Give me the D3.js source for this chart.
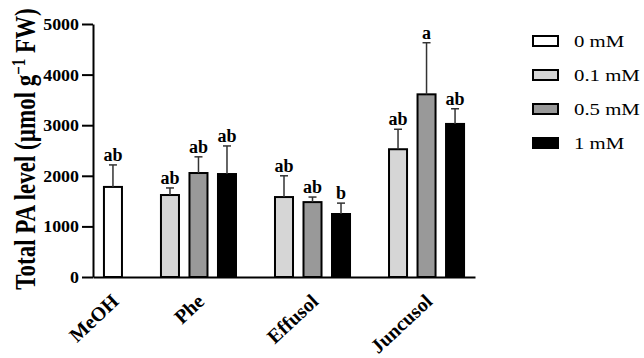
<!DOCTYPE html>
<html><head><meta charset="utf-8">
<script src="https://cdn.jsdelivr.net/npm/d3@7"></script>
<style>body{margin:0;background:#fff}svg{display:block}</style>
</head><body><svg id="c" width="644" height="358"></svg>
<script>
const categories = ["MeOH", "Phe", "Effusol", "Juncusol"];
const series = ["0 mM", "0.1 mM", "0.5 mM", "1 mM"];
const colors = ["#ffffff", "#d6d6d6", "#999999", "#000000"];
const meanValues = {
  "MeOH":     [1780, null, null, null],
  "Phe":      [null, 1620, 2055, 2035],
  "Effusol":  [null, 1580, 1480, 1245],
  "Juncusol": [null, 2525, 3610, 3025]
};
const errorTops = {
  "MeOH":     [2215, null, null, null],
  "Phe":      [null, 1760, 2375, 2590],
  "Effusol":  [null, 2000, 1580, 1460],
  "Juncusol": [null, 2920, 4630, 3325]
};
const letters = {
  "MeOH":     ["ab", null, null, null],
  "Phe":      [null, "ab", "ab", "ab"],
  "Effusol":  [null, "ab", "ab", "b"],
  "Juncusol": [null, "ab", "a", "ab"]
};
const yTicks = [0, 1000, 2000, 3000, 4000, 5000];

const svg = d3.select("#c");
const serif = "'Liberation Serif', 'Times New Roman', serif";

const bars = [];
const slots = [];
categories.forEach((c, ci) => {
  if (ci > 0) slots.push("gap" + ci);
  series.forEach((s, si) => {
    const v = meanValues[c][si];
    if (v == null) return;
    const key = c + "|" + s;
    slots.push(key);
    bars.push({cat: c, si, key, v, e: errorTops[c][si], l: letters[c][si]});
  });
});

const x = d3.scaleBand().domain(slots).range([93, 475]).paddingInner(0.368).paddingOuter(0.384);
const y = d3.scaleLinear().domain([0, 5000]).range([277, 24]);

svg.append("g").selectAll("rect").data(bars).join("rect")
  .attr("x", d => x(d.key)).attr("y", d => y(d.v))
  .attr("width", x.bandwidth()).attr("height", d => y(0) - y(d.v))
  .attr("fill", d => colors[d.si]).attr("stroke", "#000").attr("stroke-width", 2);

const eb = svg.append("g").attr("stroke", "#333").attr("stroke-width", 1.5);
bars.forEach(d => {
  const cx = x(d.key) + x.bandwidth() / 2;
  eb.append("line").attr("x1", cx).attr("x2", cx).attr("y1", y(d.v)).attr("y2", y(d.e));
  eb.append("line").attr("x1", cx - 4).attr("x2", cx + 4).attr("y1", y(d.e)).attr("y2", y(d.e));
});

svg.append("g").selectAll("text").data(bars).join("text")
  .attr("x", d => x(d.key) + x.bandwidth() / 2).attr("y", d => y(d.e) - 4)
  .attr("text-anchor", "middle").attr("font-family", serif).attr("font-weight", "bold")
  .attr("font-size", 18).text(d => d.l);

const ya = svg.append("g").attr("transform", "translate(93,0)")
  .call(d3.axisLeft(y).tickValues(yTicks).tickSize(11).tickSizeOuter(0).tickPadding(3).tickFormat(d3.format("d")));
ya.select(".domain").attr("stroke-width", 2);
ya.selectAll(".tick line").attr("stroke-width", 2);
ya.selectAll(".tick text")
  .attr("x", -14 / 1.12).attr("dy", "0.34em").attr("transform", "scale(1.12,1)")
  .attr("font-family", serif).attr("font-weight", "bold").attr("font-size", 16).attr("fill", "#000");

const xa = svg.append("g").attr("transform", "translate(0,277)")
  .call(d3.axisBottom(x).tickSize(0).tickSizeOuter(0).tickFormat(""));
xa.select(".domain").attr("stroke-width", 2);
xa.selectAll(".tick").remove();

const catCenter = c => {
  const ks = bars.filter(b => b.cat === c).map(b => x(b.key) + x.bandwidth() / 2);
  return (d3.min(ks) + d3.max(ks)) / 2;
};
svg.append("g").selectAll("text").data(categories).join("text")
  .attr("transform", c => `translate(${catCenter(c) + 7},${303}) rotate(-43)`)
  .attr("text-anchor", "end").attr("font-family", serif).attr("font-weight", "bold")
  .attr("font-size", 20).text(c => c);

const t = svg.append("text")
  .attr("transform", "translate(35,149) scale(1.3,1) rotate(-90)")
  .attr("text-anchor", "middle").attr("font-family", serif).attr("font-weight", "bold")
  .attr("font-size", 23);
t.append("tspan").text("Total PA level (\u00b5mol g");
t.append("tspan").attr("baseline-shift", "super").attr("font-size", 15).text("\u22121");
t.append("tspan").text(" FW)");

const lg = svg.append("g");
series.forEach((s, i) => {
  const yy = 41 + i * 34;
  lg.append("rect").attr("x", 533).attr("y", yy - 5).attr("width", 25).attr("height", 10)
    .attr("fill", colors[i]).attr("stroke", "#000").attr("stroke-width", 2);
  lg.append("text").attr("transform", `translate(574,${yy + 5.5}) scale(1.3,1)`)
    .attr("font-family", serif).attr("font-size", 16).text(s);
});
</script></body></html>
